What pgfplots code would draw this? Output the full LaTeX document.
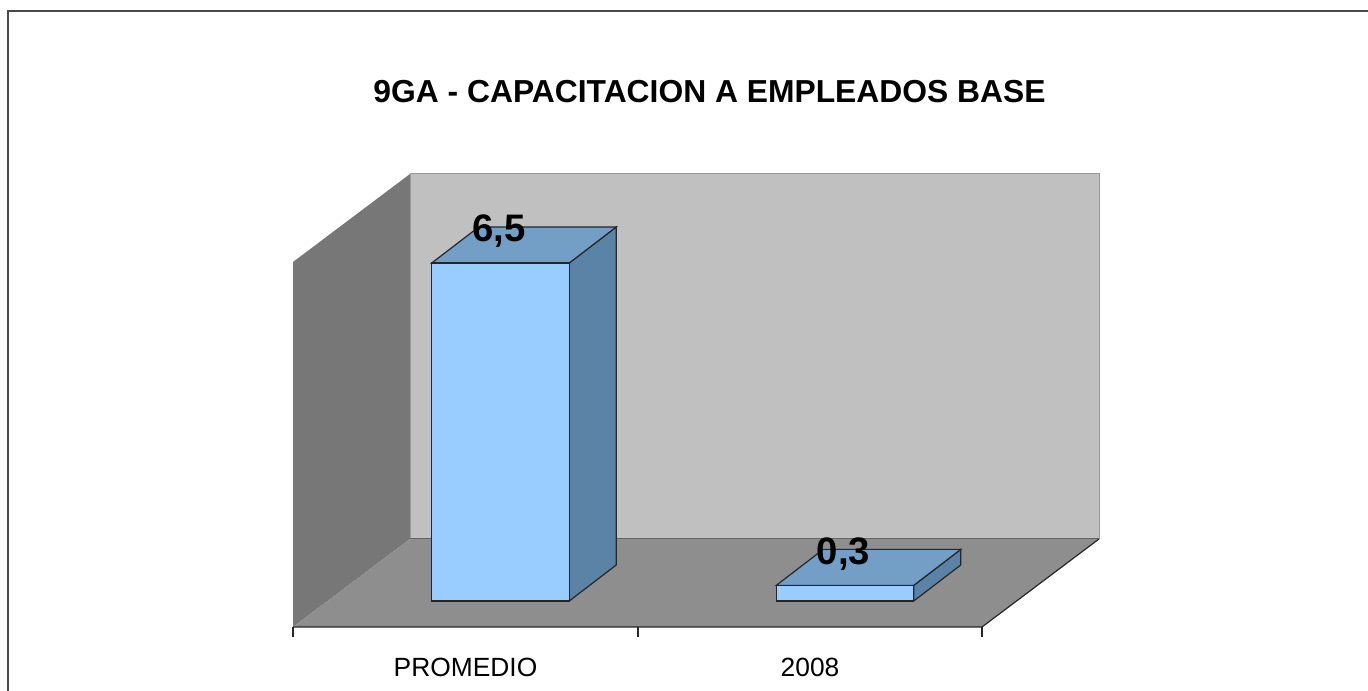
\documentclass[border=0pt]{standalone}
\usepackage{pgfplots}
\pgfplotsset{compat=1.18}
\usepackage{fontspec}
\setmainfont{Liberation Sans}
\definecolor{backwall}{HTML}{C0C0C0}
\definecolor{sidewall}{HTML}{777777}
\definecolor{floorc}{HTML}{8E8E8E}
\definecolor{barfront}{HTML}{99CCFF}
\definecolor{bartop}{HTML}{739FC7}
\definecolor{barside}{HTML}{5B83A6}
\definecolor{framec}{HTML}{4A4A4A}
\begin{document}
\begin{tikzpicture}
\begin{axis}[
  scale only axis, width=136.8mm, height=69.1mm,
  xmin=0, xmax=1368, ymin=-1.7308, ymax=11.5577,
  axis line style={draw=none},
  ytick=\empty,
  xtick={465.5,810},
  xticklabels={PROMEDIO,2008},
  major tick length=0pt,
  xticklabel style={anchor=base, yshift=1.4mm, font=\fontsize{7.5}{9}\selectfont},
  clip=false,
]
% frame
\addplot[draw=framec, line width=0.2mm] coordinates {(8,-1.7308) (8,11.346) (1368,11.346)};
% left wall
\addplot[fill=sidewall, draw=none] coordinates {(293,-0.5) (293,6.519) (410,8.2115) (410,1.1923)} -- cycle;
% back wall
\addplot[fill=backwall, draw=black!40, line width=0.1mm] coordinates {(410,1.1923) (1099,1.1923) (1099,8.2115) (410,8.2115)} -- cycle;
% floor
\addplot[fill=floorc, draw=none] coordinates {(293,-0.5) (982,-0.5) (1099,1.1923) (410,1.1923)} -- cycle;
\addplot[draw=black!60, line width=0.1mm] coordinates {(410,1.1923) (1099,1.1923)};
\addplot[draw=black!85, line width=0.12mm] coordinates {(293,-0.5) (982,-0.5) (1099,1.1923)};
% tick marks
\addplot[draw=black!85, line width=0.12mm] coordinates {(293,-0.5) (293,-0.6923)};
\addplot[draw=black!85, line width=0.12mm] coordinates {(638,-0.5) (638,-0.6923)};
\addplot[draw=black!85, line width=0.12mm] coordinates {(982,-0.5) (982,-0.6923)};
% bar side faces
\addplot[fill=barside, draw=black!85, line width=0.12mm] coordinates {(569.25,0) (616.25,0.6923) (616.25,7.1923) (569.25,6.5)} -- cycle;
\addplot[fill=barside, draw=black!85, line width=0.12mm] coordinates {(913.75,0) (960.75,0.6923) (960.75,0.9923) (913.75,0.3)} -- cycle;
% bar top faces
\addplot[fill=bartop, draw=black!85, line width=0.12mm] coordinates {(431.75,6.5) (569.25,6.5) (616.25,7.1923) (478.75,7.1923)} -- cycle;
\addplot[fill=bartop, draw=black!85, line width=0.12mm] coordinates {(776.25,0.3) (913.75,0.3) (960.75,0.9923) (823.25,0.9923)} -- cycle;
% bar fronts
\addplot[ybar, bar width=137.5, bar shift=35, fill=barfront, draw=black!85, line width=0.12mm,
  nodes near coords={\pgfmathprintnumber[fixed, precision=1, fixed zerofill, use comma, assume math mode=true]{\pgfplotspointmeta}},
  every node near coord/.append style={anchor=base, yshift=2.1mm, xshift=3.35mm, inner sep=0pt,
     font=\fontsize{10.9}{13}\selectfont\bfseries, text=black}]
  coordinates {(465.5,6.5) (810,0.3)};
% title
\node[anchor=base, font=\fontsize{9.05}{11}\selectfont\bfseries] at (axis cs:709.5,9.577) {9GA - CAPACITACION A EMPLEADOS BASE};
\end{axis}
\pgfresetboundingbox
\path (current axis.south west) rectangle (current axis.north east);
\end{tikzpicture}
\end{document}
